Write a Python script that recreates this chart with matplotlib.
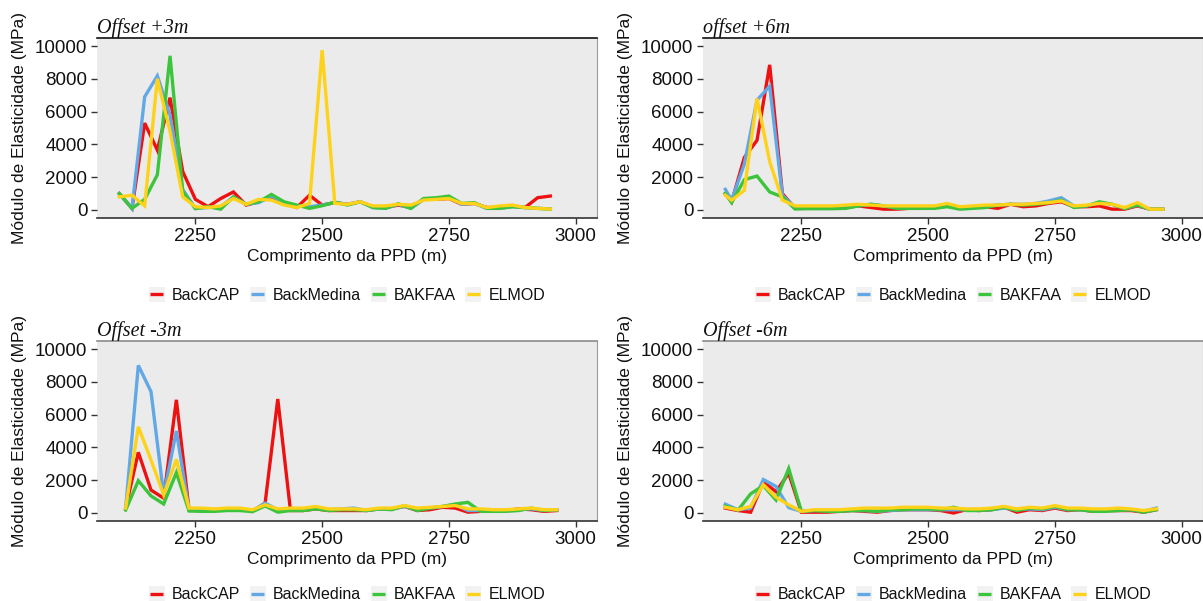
import matplotlib
matplotlib.use("Agg")
import matplotlib.pyplot as plt
from matplotlib.legend_handler import HandlerLine2D
from matplotlib.patches import Rectangle
from matplotlib.lines import Line2D

# ---------------- data ----------------
series_names = ["BackCAP", "BackMedina", "BAKFAA", "ELMOD"]
series_colors = ["#EE1111", "#62A8E6", "#3DC43D", "#FFD21A"]

panel_titles = ["Offset +3m", "offset +6m", "Offset -3m", "Offset -6m"]
x_label = "Comprimento da PPD (m)"
y_label = "Módulo de Elasticidade (MPa)"
x_ticks = [2250, 2500, 2750, 3000]
y_ticks = [0, 2000, 4000, 6000, 8000, 10000]

# Offset +3m
x_p3 = [2100, 2125, 2150, 2175, 2200, 2225, 2250, 2275, 2300, 2325, 2350, 2375,
        2400, 2425, 2450, 2475, 2500, 2525, 2550, 2575, 2600, 2625, 2650, 2675,
        2700, 2725, 2750, 2775, 2800, 2825, 2850, 2875, 2900, 2925, 2950]
backcap_p3 = [1000, 100, 5300, 3650, 6850, 2350, 650, 200, 700, 1100, 300, 500,
              800, 400, 150, 900, 300, 450, 350, 500, 200, 150, 300, 150,
              650, 650, 700, 350, 400, 150, 150, 250, 150, 750, 850]
backmedina_p3 = [1000, 100, 6900, 8180, 5800, 1250, 100, 150, 200, 800, 350, 450,
                 850, 450, 250, 200, 300, 450, 350, 500, 150, 100, 350, 100,
                 650, 700, 800, 350, 400, 100, 100, 200, 150, 100, 60]
bakfaa_p3 = [1000, 100, 650, 2150, 9400, 1150, 80, 200, 50, 800, 350, 500,
             950, 500, 300, 100, 260, 480, 300, 500, 150, 100, 380, 100,
             700, 750, 850, 400, 450, 100, 100, 200, 150, 100, 60]
elmod_p3 = [800, 900, 250, 8000, 4800, 800, 200, 150, 250, 700, 350, 650,
            600, 300, 150, 400, 9750, 400, 350, 500, 250, 250, 350, 300,
            600, 650, 700, 400, 400, 150, 250, 300, 150, 100, 60]

# offset +6m
x_p6 = [2100, 2112.5, 2137.5, 2162.5, 2187.5, 2212.5, 2237.5, 2262.5, 2287.5,
        2312.5, 2337.5, 2362.5, 2387.5, 2412.5, 2437.5, 2462.5, 2487.5, 2512.5,
        2537.5, 2562.5, 2587.5, 2612.5, 2637.5, 2662.5, 2687.5, 2712.5, 2737.5,
        2762.5, 2787.5, 2812.5, 2837.5, 2862.5, 2887.5, 2912.5, 2937.5, 2962.5]
backcap_p6 = [1000, 500, 3200, 4250, 8850, 1000, 100, 100, 100, 100, 150, 250,
              150, 50, 50, 100, 100, 150, 300, 100, 150, 200, 100, 350,
              200, 250, 400, 500, 200, 200, 250, 50, 50, 250, 50, 50]
backmedina_p6 = [1260, 600, 2800, 6700, 7550, 900, 150, 150, 150, 150, 200, 250,
                 350, 250, 150, 150, 150, 150, 300, 100, 150, 250, 300, 350,
                 350, 400, 550, 750, 250, 250, 450, 350, 100, 300, 50, 50]
bakfaa_p6 = [1000, 450, 1850, 2070, 1100, 800, 60, 80, 80, 80, 100, 250,
             350, 250, 100, 100, 100, 100, 200, 50, 100, 150, 300, 350,
             300, 350, 450, 600, 150, 250, 500, 350, 100, 300, 50, 50]
elmod_p6 = [900, 600, 1200, 6800, 2950, 600, 250, 250, 250, 250, 300, 350,
            300, 250, 250, 250, 250, 250, 400, 200, 250, 300, 300, 350,
            350, 400, 450, 550, 250, 300, 400, 350, 150, 450, 50, 50]

# Offset -3m
x_m3 = [2112.5, 2137.5, 2162.5, 2187.5, 2212.5, 2237.5, 2262.5, 2287.5, 2312.5,
        2337.5, 2362.5, 2387.5, 2412.5, 2437.5, 2462.5, 2487.5, 2512.5, 2537.5,
        2562.5, 2587.5, 2612.5, 2637.5, 2662.5, 2687.5, 2712.5, 2737.5, 2762.5,
        2787.5, 2812.5, 2837.5, 2862.5, 2887.5, 2912.5, 2937.5, 2962.5]
backcap_m3 = [300, 3700, 1400, 900, 6900, 200, 150, 150, 200, 250, 100, 600,
              6950, 150, 150, 250, 150, 150, 150, 150, 250, 250, 400, 150,
              200, 350, 300, 50, 100, 150, 150, 250, 200, 100, 150]
backmedina_m3 = [300, 9000, 7400, 1100, 5000, 200, 200, 200, 250, 250, 150, 600,
                 200, 200, 250, 350, 200, 250, 300, 150, 250, 250, 400, 200,
                 300, 400, 500, 150, 150, 150, 150, 200, 250, 150, 200]
bakfaa_m3 = [180, 1970, 1040, 550, 2460, 120, 100, 100, 150, 150, 80, 430,
             50, 150, 150, 250, 150, 200, 200, 150, 250, 200, 450, 150,
             300, 400, 550, 650, 100, 100, 100, 150, 300, 150, 200]
elmod_m3 = [300, 5260, 3230, 1100, 3270, 300, 300, 250, 300, 300, 200, 500,
            250, 300, 300, 400, 250, 250, 250, 200, 300, 300, 450, 300,
            350, 400, 450, 250, 250, 200, 200, 250, 300, 200, 200]

# Offset -6m
x_m6 = [2100, 2125, 2150, 2175, 2200, 2225, 2250, 2275, 2300, 2325, 2350, 2375,
        2400, 2425, 2450, 2475, 2500, 2525, 2550, 2575, 2600, 2625, 2650, 2675,
        2700, 2725, 2750, 2775, 2800, 2825, 2850, 2875, 2900, 2925, 2950]
backcap_m6 = [300, 150, 50, 1900, 1300, 2420, 50, 50, 50, 100, 150, 100,
              50, 150, 200, 200, 200, 150, 0, 200, 150, 200, 350, 50,
              200, 150, 300, 150, 200, 100, 150, 150, 150, 50, 200]
backmedina_m6 = [540, 200, 300, 2040, 1620, 330, 100, 150, 150, 150, 150, 150,
                 100, 150, 200, 200, 200, 200, 200, 200, 200, 200, 300, 200,
                 250, 200, 350, 200, 200, 150, 150, 200, 200, 100, 300]
bakfaa_m6 = [420, 170, 1170, 1670, 790, 2710, 100, 150, 100, 100, 150, 150,
             100, 200, 200, 250, 250, 200, 350, 150, 150, 200, 350, 150,
             300, 250, 400, 200, 200, 100, 100, 150, 200, 50, 200]
elmod_m6 = [350, 200, 400, 1730, 960, 500, 100, 200, 200, 200, 250, 300,
            300, 300, 350, 350, 350, 300, 300, 250, 250, 300, 400, 250,
            350, 300, 450, 300, 300, 250, 250, 300, 250, 150, 250]

panels = [
    (x_p3, [backcap_p3, backmedina_p3, bakfaa_p3, elmod_p3]),
    (x_p6, [backcap_p6, backmedina_p6, bakfaa_p6, elmod_p6]),
    (x_m3, [backcap_m3, backmedina_m3, bakfaa_m3, elmod_m3]),
    (x_m6, [backcap_m6, backmedina_m6, bakfaa_m6, elmod_m6]),
]

# ---------------- figure ----------------
W, H = 1203, 601
fig = plt.figure(figsize=(W / 100, H / 100), dpi=100)
fig.patch.set_facecolor("white")
plt.rcParams["font.family"] = ["Liberation Sans", "DejaVu Sans"]

# pixel boxes (left, top, right, bottom)
boxes = [(97, 38, 597, 218), (703, 38, 1203, 218),
         (97, 341, 597, 521), (703, 341, 1203, 521)]
top_spine_colors = ["#111111", "#111111", "#8C8C8C", "#8C8C8C"]
legend_y = [-0.43, -0.43, -0.41, -0.41]


class KeyHandler(HandlerLine2D):
    def create_artists(self, legend, orig_handle, xdescent, ydescent,
                       width, height, fontsize, trans):
        side = height * 1.35
        rect = Rectangle((-xdescent, -ydescent + height / 2 - side / 2),
                         width, side, facecolor="#F2F2F2",
                         edgecolor="none", transform=trans)
        yc = -ydescent + height / 2
        line = Line2D([-xdescent + width * 0.1, -xdescent + width * 0.9],
                      [yc, yc], color=orig_handle.get_color(),
                      lw=orig_handle.get_linewidth(), solid_capstyle="butt",
                      transform=trans)
        return [rect, line]


for i, ((l, t, r, b), (xs, ys_list)) in enumerate(zip(boxes, panels)):
    ax = fig.add_axes([l / W, 1 - b / H, (r - l) / W, (b - t) / H])
    ax.set_facecolor("#EBEBEB")
    handles = []
    for name, col, ys in zip(series_names, series_colors, ys_list):
        h, = ax.plot(xs, ys, color=col, lw=2.4, label=name,
                     solid_joinstyle="miter")
        handles.append(h)
    ax.set_xlim(2056, 3042)
    ax.set_ylim(-488, 10488)
    ax.set_xticks(x_ticks)
    ax.set_yticks(y_ticks)
    ax.tick_params(axis="both", labelsize=13.5, length=4, width=1,
                   color="#333333", labelcolor="#111111", pad=3)
    ax.spines["left"].set_visible(False)
    ax.spines["right"].set_color("#9A9A9A")
    ax.spines["right"].set_linewidth(0.8)
    ax.spines["top"].set_color(top_spine_colors[i])
    ax.spines["top"].set_linewidth(1.2)
    ax.spines["bottom"].set_color("#333333")
    ax.spines["bottom"].set_linewidth(1.2)
    ax.set_xlabel(x_label, fontsize=12.5, labelpad=3, color="#111111")
    ax.set_ylabel(y_label, fontsize=12.5, labelpad=6, color="#111111")
    ax.text(0.0, 1.0 + 5 / 180, panel_titles[i], transform=ax.transAxes,
            ha="left", va="baseline", fontsize=14.5, style="italic",
            family=["Liberation Serif", "DejaVu Serif"], color="#111111")
    leg = ax.legend(handles=handles, loc="center",
                    bbox_to_anchor=(0.5, legend_y[i]), ncol=4, frameon=False,
                    fontsize=11.5, handlelength=1.0, handletextpad=0.45,
                    columnspacing=0.6, borderaxespad=0,
                    handler_map={Line2D: KeyHandler()})
    for txt in leg.get_texts():
        txt.set_color("#111111")

fig.savefig("out.png", dpi=100)
